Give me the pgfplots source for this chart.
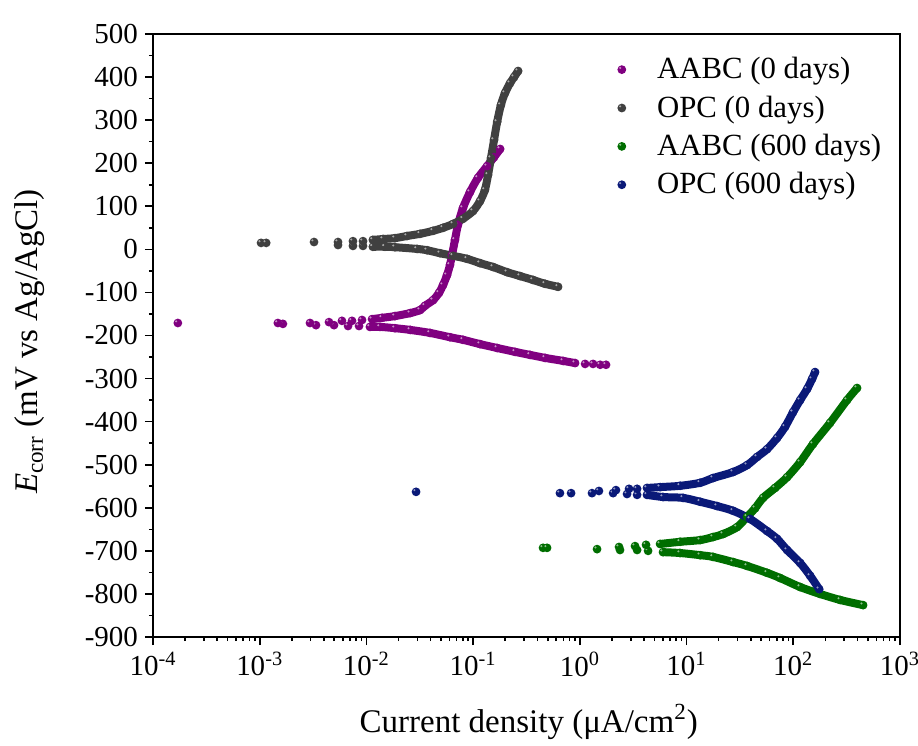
\documentclass[border=0pt]{standalone}
\usepackage{fontspec}
\setmainfont{Liberation Serif}
\usepackage{pgfplots}
\usepackage{pgfplotstable}
\pgfplotsset{compat=1.18}

\definecolor{cAABCa}{RGB}{128,0,128}
\definecolor{cOPCa}{RGB}{64,64,64}
\definecolor{cAABCb}{RGB}{0,110,0}
\definecolor{cOPCb}{RGB}{10,25,120}

% solid ball with a small light highlight
\pgfdeclareplotmark{sball}{%
  \pgfpathcircle{\pgfpointorigin}{\pgfplotmarksize}\pgfusepathqfill
  \pgfscope
  \pgfsetfillcolor{white}\pgfsetfillopacity{0.55}%
  \pgfpathcircle{\pgfpoint{-0.38\pgfplotmarksize}{0.38\pgfplotmarksize}}{0.26\pgfplotmarksize}\pgfusepathqfill
  \endpgfscope}

% AABC, 0 days
\pgfplotstableread{
i E
1.71e-4 -171
1.48e-3 -171
2.96e-3 -171
4.46e-3 -169
5.90e-3 -166
7.33e-3 -166
9.10e-3 -164
0.0113 -162
0.0140 -159
0.0185 -155
0.0257 -148
0.0318 -141
0.0354 -131
0.0421 -118
0.0479 -101
0.0522 -83
0.0569 -60
0.0607 -36
0.0634 -13
0.0676 22
0.0721 57
0.0803 96
0.0935 133
0.111 166
0.135 193
0.157 214
0.179 233
}\aabcAan
\pgfplotstableread{
i E
1.65e-3 -173
3.37e-3 -176
4.97e-3 -176
6.73e-3 -178
8.53e-3 -178
0.0108 -180
0.0134 -180
0.0185 -183
0.0257 -187
0.0394 -194
0.0607 -204
0.0803 -210
0.116 -220
0.168 -229
0.247 -238
0.341 -245
0.472 -252
0.697 -259
0.902 -264
1.12 -266
1.33 -266
1.55 -268
1.76 -268
}\aabcAcat
% OPC, 0 days
\pgfplotstableread{
i E
1.03e-3 15
1.15e-3 15
3.23e-3 17
5.42e-3 17
7.48e-3 19
9.29e-3 19
0.0115 22
0.0143 24
0.0185 26
0.0240 31
0.0318 36
0.0421 43
0.0522 50
0.0649 59
0.0803 71
0.0998 89
0.116 112
0.129 138
0.138 173
0.147 212
0.157 254
0.168 296
0.182 335
0.199 363
0.222 386
0.242 400
0.264 414
}\opcAan
\pgfplotstableread{
i E
5.42e-3 10
7.48e-3 8
9.29e-3 8
0.0115 6
0.0149 6
0.0185 5
0.0298 1
0.0370 -2
0.0490 -9
0.0649 -15
0.0877 -22
0.116 -32
0.154 -41
0.208 -53
0.275 -62
0.364 -71
0.472 -80
0.625 -87
}\opcAcat
% AABC, 600 days
\pgfplotstableread{
i E
0.452 -693
0.493 -693
2.33 -691
3.29 -689
4.17 -686
5.65 -684
8.69 -679
13.4 -675
17.7 -668
22.0 -661
29.7 -645
36.9 -621
43.9 -601
52.1 -577
67.5 -554
87.5 -529
116 -494
153 -452
221 -403
319 -350
396 -322
}\aabcBan
\pgfplotstableread{
i E
1.45 -696
2.38 -698
3.44 -698
4.36 -700
6.02 -703
8.69 -705
13.4 -710
17.7 -714
27.3 -726
36.9 -735
56.8 -751
75.2 -763
116 -784
178 -800
275 -814
451 -826
}\aabcBcat
% OPC, 600 days
\pgfplotstableread{
i E
0.0292 -563
0.828 -566
1.51 -561
2.18 -559
2.89 -556
3.44 -556
4.26 -554
5.65 -552
8.69 -549
13.4 -542
17.7 -531
27.3 -517
36.9 -501
45.8 -482
56.8 -464
70.5 -438
83.8 -412
99.5 -378
116 -350
135 -324
150 -301
160 -285
}\opcBan
\pgfplotstableread{
i E
0.651 -566
1.30 -566
2.05 -566
2.77 -568
3.44 -570
4.26 -570
6.02 -575
9.27 -577
13.4 -586
19.3 -596
27.3 -607
39.4 -626
56.8 -654
70.5 -672
87.5 -698
116 -728
144 -758
175 -789
}\opcBcat

\begin{document}
\begin{tikzpicture}
\begin{axis}[
    scale only axis,
    width=373.5pt, height=301.5pt,
    xmode=log,
    xmin=1e-4, xmax=1e3,
    ymin=-900, ymax=500,
    xtick={1e-4,1e-3,1e-2,1e-1,1,10,100,1000},
    xticklabels={10\textsuperscript{-4},10\textsuperscript{-3},10\textsuperscript{-2},10\textsuperscript{-1},10\textsuperscript{0},10\textsuperscript{1},10\textsuperscript{2},10\textsuperscript{3}},
    minor xtick={2e-4,3e-4,4e-4,5e-4,6e-4,7e-4,8e-4,9e-4,
                 2e-3,3e-3,4e-3,5e-3,6e-3,7e-3,8e-3,9e-3,
                 2e-2,3e-2,4e-2,5e-2,6e-2,7e-2,8e-2,9e-2,
                 0.2,0.3,0.4,0.5,0.6,0.7,0.8,0.9,
                 2,3,4,5,6,7,8,9,
                 20,30,40,50,60,70,80,90,
                 200,300,400,500,600,700,800,900},
    ytick={-900,-800,...,500},
    yticklabels={-900,-800,-700,-600,-500,-400,-300,-200,-100,0,100,200,300,400,500},
    minor ytick={-850,-750,...,450},
    tick align=outside,
    xtick pos=bottom, ytick pos=left,
    major tick length=4pt, minor tick length=2pt,
    axis line style={line width=1pt},
    every tick/.style={black, line width=0.8pt},
    tick label style={font=\fontsize{14.5}{17}\selectfont},
    xlabel={Current density (μA/cm\textsuperscript{2})},
    ylabel={{\itshape E}\textsubscript{corr} (mV vs Ag/AgCl)},
    xlabel style={font=\fontsize{16.5}{19}\selectfont, at={(axis description cs:0.503,-0.141)}, anchor=center},
    ylabel style={font=\fontsize{16.5}{19}\selectfont, at={(axis description cs:-0.165,0.49)}, anchor=center, rotate=0},
    legend style={at={(axis description cs:0.6,0.975)}, anchor=north west, draw=none, fill=none,
                  font=\fontsize{15.4}{18}\selectfont, row sep=3pt},
    legend cell align=left,
    legend image code/.code={\draw[#1] plot coordinates {(0.25cm,0cm)}; \path[draw=none,fill=none] (0cm,0cm) (0.8cm,0cm);},
    tube/.style={line width=4pt, line cap=round, line join=round, smooth, mark=none},
    pts/.style={only marks, mark=sball, mark size=2.2pt, color=#1},
]
% AABC (0 days)
\addplot[tube, cAABCa, forget plot, skip coords between index={0}{7}] table[x=i,y=E] {\aabcAan};
\addplot[tube, cAABCa, forget plot, skip coords between index={0}{5}, skip coords between index={19}{23}] table[x=i,y=E] {\aabcAcat};
\addplot[pts=cAABCa, forget plot] table[x=i,y=E] {\aabcAcat};
\addplot[pts=cAABCa] table[x=i,y=E] {\aabcAan};
% OPC (0 days)
\addplot[tube, cOPCa, forget plot, skip coords between index={0}{6}] table[x=i,y=E] {\opcAan};
\addplot[tube, cOPCa, forget plot, skip coords between index={0}{3}] table[x=i,y=E] {\opcAcat};
\addplot[pts=cOPCa, forget plot] table[x=i,y=E] {\opcAcat};
\addplot[pts=cOPCa] table[x=i,y=E] {\opcAan};
% AABC (600 days)
\addplot[tube, cAABCb, forget plot, skip coords between index={0}{5}] table[x=i,y=E] {\aabcBan};
\addplot[tube, cAABCb, forget plot, skip coords between index={0}{4}] table[x=i,y=E] {\aabcBcat};
\addplot[pts=cAABCb, forget plot] table[x=i,y=E] {\aabcBcat};
\addplot[pts=cAABCb] table[x=i,y=E] {\aabcBan};
% OPC (600 days)
\addplot[tube, cOPCb, forget plot, skip coords between index={0}{6}] table[x=i,y=E] {\opcBan};
\addplot[tube, cOPCb, forget plot, skip coords between index={0}{5}] table[x=i,y=E] {\opcBcat};
\addplot[pts=cOPCb, forget plot] table[x=i,y=E] {\opcBcat};
\addplot[pts=cOPCb] table[x=i,y=E] {\opcBan};
\legend{AABC (0 days), OPC (0 days), AABC (600 days), OPC (600 days)}
\coordinate (sw) at (rel axis cs:0,0);
\coordinate (ne) at (rel axis cs:1,1);
\end{axis}
\pgfresetboundingbox
\useasboundingbox ([shift={(-76.5pt,-54.5pt)}]sw) rectangle ([shift={(9pt,17pt)}]ne);
\end{tikzpicture}
\end{document}
